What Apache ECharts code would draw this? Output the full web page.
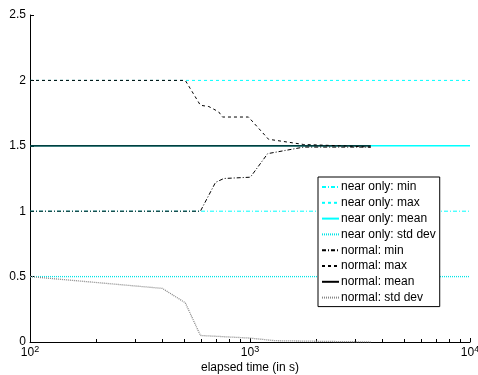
<!DOCTYPE html>
<html>
<head>
<meta charset="utf-8">
<script src="https://cdn.jsdelivr.net/npm/echarts@6/dist/echarts.min.js"></script>
<style>
  html, body { margin: 0; padding: 0; background: #fff; }
  #main { width: 478px; height: 375px; }
</style>
</head>
<body>
<div id="main"></div>
<script>
// near only: flat lines over the whole range
var nearTime = [100, 10000];
var nearMin = [1, 1];
var nearMax = [2, 2];
var nearMean = [1.5, 1.5];
var nearStd = [0.5, 0.5];

// normal
var minTime = [100, 595, 697, 760, 1004, 1203, 1754, 2600, 3540];
var minVals = [1, 1, 1.22, 1.25, 1.26, 1.44, 1.49, 1.49, 1.49];
var maxTime = [100, 508, 595, 650, 720, 750, 984, 1214, 1754, 2600, 3540];
var maxVals = [2, 2, 1.81, 1.8, 1.76, 1.72, 1.72, 1.55, 1.51, 1.5, 1.49];
var meanTime = [100, 3540];
var meanVals = [1.5, 1.5];
var stdTime = [100, 399, 508, 595, 1000, 1300, 3540];
var stdVals = [0.5, 0.41, 0.30, 0.05, 0.03, 0.01, 0.0];

var yTicks = [0, 0.5, 1, 1.5, 2, 2.5];
// log minor ticks (2..9 per decade)
var minorTicks = [200, 300, 400, 500, 600, 700, 800, 900,
                  2000, 3000, 4000, 5000, 6000, 7000, 8000, 9000];

function pairs(xs, ys) {
    return xs.map(function (x, i) { return [x, ys[i]]; });
}

function line(name, xs, ys, color, type, width) {
    return {
        name: name,
        type: 'line',
        data: pairs(xs, ys),
        symbol: 'none',
        silent: true,
        animation: false,
        // transparent item colour hides the legend's marker dot
        itemStyle: { color: 'rgba(0,0,0,0)' },
        lineStyle: { color: color, type: type, width: width || 1 }
    };
}

var chart = echarts.init(document.getElementById('main'));
var font = 'Liberation Sans, Arial, Helvetica, sans-serif';

var option = {
    animation: false,
    textStyle: { fontFamily: font },
    grid: { left: 30, right: 8, top: 15, bottom: 33, outerBoundsMode: 'none', containLabel: false },
    xAxis: {
        type: 'log',
        logBase: 10,
        min: 100,
        max: 10000,
        name: 'elapsed time (in s)',
        nameLocation: 'middle',
        nameGap: 20,
        nameMoveOverlap: false,
        nameTextStyle: { color: '#000', fontSize: 12, fontFamily: font },
        axisLine: { lineStyle: { color: '#000', width: 1 } },
        axisTick: { inside: true, length: 4, lineStyle: { color: '#000' } },
        minorTick: { show: false },
        splitLine: { show: false },
        axisLabel: {
            margin: 3,
            color: '#000',
            formatter: function (v) {
                return '{b|10}{s|' + Math.round(Math.log10(v)) + '}';
            },
            rich: {
                b: { fontSize: 12, fontFamily: font, color: '#000', verticalAlign: 'bottom', lineHeight: 14 },
                s: { fontSize: 9, fontFamily: font, color: '#000', verticalAlign: 'top', lineHeight: 14, padding: [0, 0, 6, 0] }
            }
        }
    },
    yAxis: {
        type: 'value',
        min: 0,
        max: 2.5,
        interval: 0.5,
        axisLine: { show: true, lineStyle: { color: '#000', width: 1 } },
        axisTick: { show: true, inside: true, length: 4, lineStyle: { color: '#000' } },
        splitLine: { show: false },
        axisLabel: {
            margin: 4,
            color: '#000',
            fontSize: 12,
            fontFamily: font,
            formatter: function (v) { return yTicks.indexOf(v) >= 0 ? String(v) : ''; }
        }
    },
    legend: {
        orient: 'vertical',
        left: 318,
        top: 177,
        width: 123,
        padding: [4, 4, 3, 3],
        itemWidth: 17,
        itemHeight: 10,
        itemGap: 3.8,
        backgroundColor: '#fff',
        borderColor: '#000',
        borderWidth: 1,
        textStyle: { color: '#000', fontSize: 12, fontFamily: font, padding: [0, 0, 0, -3] },
        data: ['near only: min', 'near only: max', 'near only: mean', 'near only: std dev',
               'normal: min', 'normal: max', 'normal: mean', 'normal: std dev']
    },
    series: [
        line('near only: min', nearTime, nearMin, '#00ffff', [4, 2, 1, 2]),
        line('near only: max', nearTime, nearMax, '#00ffff', [3, 3]),
        line('near only: mean', nearTime, nearMean, '#00ffff', 'solid', 1.5),
        line('near only: std dev', nearTime, nearStd, '#00e5e5', [1, 1], 1.3),
        line('normal: min', minTime, minVals, '#000000', [4, 2, 1, 2]),
        line('normal: max', maxTime, maxVals, '#000000', [3, 3]),
        line('normal: mean', meanTime, meanVals, '#000000', 'solid', 1.2),
        line('normal: std dev', stdTime, stdVals, '#888888', [1, 1], 1.3),
        {
            type: 'custom',
            silent: true,
            animation: false,
            data: minorTicks.map(function (t) { return [t, 0]; }),
            renderItem: function (params, api) {
                var p = api.coord([api.value(0), 0]);
                var x = Math.round(p[0]) + 0.5;
                return {
                    type: 'line',
                    shape: { x1: x, y1: p[1], x2: x, y2: p[1] - 3 },
                    style: { stroke: '#000', lineWidth: 1 }
                };
            }
        }
    ]
};

chart.setOption(option);
</script>
</body>
</html>
